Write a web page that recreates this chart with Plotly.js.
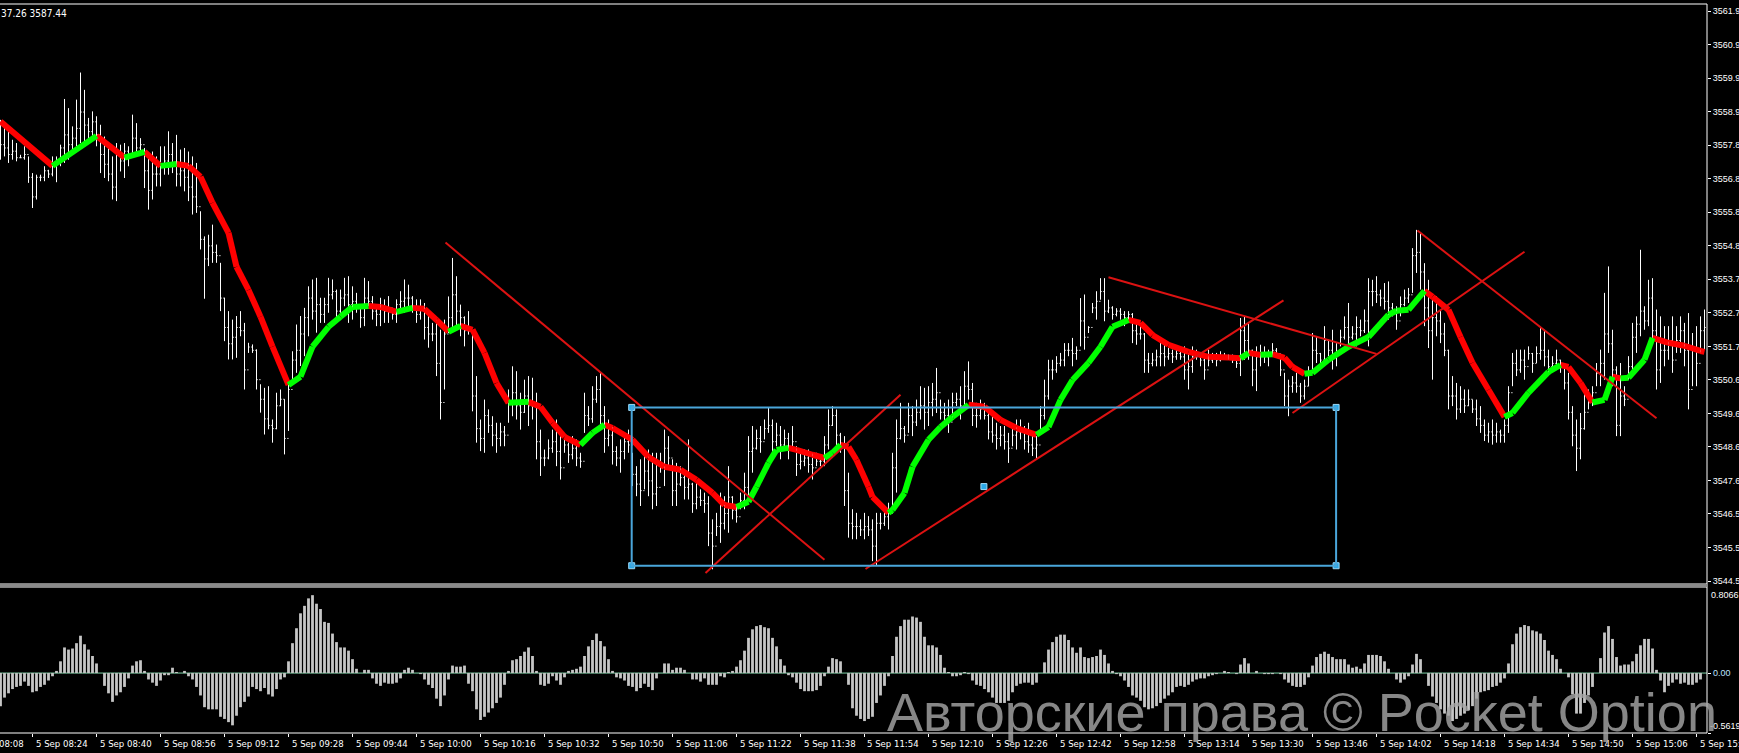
<!DOCTYPE html>
<html><head><meta charset="utf-8">
<script src="https://cdn.plot.ly/plotly-3.0.1.min.js"></script>
<style>html,body{margin:0;padding:0;background:#000;overflow:hidden}#chart{width:1739px;height:753px}</style>
</head><body><div id="chart"></div>
<script>
// ---------- price bars (1-minute) ----------
const high = [3558.66,3558.51,3558.46,3558.05,3557.95,3557.59,3557.85,3557.54,3557.03,3556.98,
3556.98,3557.24,3557.13,3557.54,3557.54,3557.90,3559.30,3559.02,3558.46,3559.28,
3560.11,3559.58,3558.72,3558.92,3558.77,3558.51,3558.15,3557.85,3557.54,3557.95,
3557.90,3557.95,3557.85,3558.82,3558.56,3558.10,3557.80,3557.54,3557.69,3557.54,
3557.85,3557.85,3558.31,3557.95,3558.20,3557.75,3557.80,3557.69,3557.54,3557.34,
3555.86,3555.09,3555.14,3555.45,3554.84,3554.28,3553.21,3552.80,3552.54,3552.65,
3552.80,3552.44,3551.83,3551.78,3551.63,3550.56,3550.45,3550.50,3549.48,3550.30,
3550.40,3550.10,3550.61,3551.57,3552.39,3552.65,3552.90,3553.56,3553.77,3553.82,
3553.21,3553.21,3553.82,3553.77,3553.46,3553.46,3553.82,3553.87,3553.56,3553.36,
3552.95,3553.82,3553.72,3553.26,3553.00,3553.21,3553.16,3553.26,3552.85,3553.16,
3553.41,3553.77,3553.61,3553.26,3553.16,3553.16,3553.05,3552.65,3552.44,3552.54,
3552.23,3552.54,3553.25,3554.43,3553.87,3553.00,3552.64,3552.80,3552.13,3550.81,
3549.48,3550.09,3549.79,3549.58,3549.38,3549.38,3549.28,3550.40,3551.11,3550.96,
3550.30,3550.70,3550.81,3550.76,3550.30,3549.17,3548.56,3548.87,3549.17,3549.48,
3548.97,3548.87,3548.77,3548.97,3548.87,3548.46,3550.30,3549.89,3550.50,3550.81,
3550.91,3549.89,3549.48,3549.28,3548.66,3548.87,3549.07,3549.17,3548.46,3548.05,
3548.26,3548.56,3548.56,3548.46,3548.46,3548.46,3549.17,3548.97,3548.26,3548.15,
3548.05,3547.85,3548.87,3547.54,3547.54,3547.34,3547.24,3547.13,3546.42,3546.62,
3547.24,3547.13,3548.05,3547.13,3546.83,3547.24,3547.85,3548.97,3549.28,3549.17,
3549.28,3549.48,3549.84,3549.48,3549.38,3549.28,3549.17,3549.07,3549.28,3548.66,
3548.56,3548.56,3548.56,3548.46,3548.46,3548.36,3548.97,3549.79,3549.89,3549.79,
3549.07,3548.97,3547.85,3546.73,3546.62,3546.42,3546.62,3546.52,3546.42,3546.62,
3546.62,3546.83,3546.93,3548.46,3549.48,3549.99,3549.28,3549.99,3549.89,3550.09,
3550.50,3550.45,3550.50,3550.60,3551.06,3550.09,3549.99,3550.09,3550.30,3550.30,
3550.50,3550.96,3551.26,3550.60,3549.99,3550.09,3549.99,3549.68,3549.58,3549.38,
3549.28,3549.28,3549.07,3549.28,3549.48,3549.48,3549.28,3549.38,3549.07,3548.97,
3549.89,3550.70,3551.31,3551.31,3551.42,3551.52,3551.82,3551.82,3551.98,3551.72,
3553.20,3553.31,3552.34,3553.05,3553.41,3553.81,3553.81,3553.15,3552.95,3552.89,
3552.89,3552.80,3552.80,3552.74,3552.54,3552.44,3552.13,3551.52,3551.52,3551.62,
3551.93,3551.82,3551.67,3551.62,3551.72,3551.62,3551.72,3551.52,3551.72,3551.62,
3551.52,3551.52,3551.62,3551.52,3551.52,3551.57,3551.52,3551.47,3551.47,3551.42,
3552.59,3552.64,3552.44,3551.62,3551.72,3551.77,3551.72,3551.62,3551.82,3551.67,
3551.42,3550.91,3550.70,3550.81,3550.91,3550.60,3550.70,3551.11,3552.13,3552.03,
3551.52,3552.34,3551.93,3552.23,3551.82,3552.23,3552.64,3553.05,3552.34,3552.64,
3552.54,3552.85,3553.81,3553.76,3553.87,3553.46,3553.66,3553.71,3553.05,3552.95,
3553.25,3553.46,3553.51,3554.73,3555.29,3555.19,3554.27,3553.76,3553.15,3553.25,
3552.85,3552.44,3551.62,3550.81,3550.60,3550.50,3550.40,3550.40,3550.09,3550.09,
3549.89,3549.48,3549.38,3549.48,3549.38,3549.17,3549.48,3550.50,3551.52,3551.62,
3551.62,3551.62,3551.72,3551.52,3551.72,3552.28,3552.23,3551.62,3551.42,3551.62,
3551.31,3551.21,3550.91,3549.89,3549.48,3549.68,3550.30,3550.40,3550.50,3551.21,
3551.62,3553.36,3554.17,3552.23,3551.11,3551.21,3550.50,3551.42,3552.44,3552.64,
3554.68,3552.95,3553.76,3553.81,3552.85,3552.64,3552.34,3552.34,3552.64,3552.34,
3552.64,3552.44,3552.74,3552.13,3552.34,3552.64,3552.85];

const low = [3557.44,3557.54,3557.34,3557.44,3557.39,3557.49,3557.44,3556.73,3555.96,3556.22,
3556.78,3556.78,3556.88,3556.93,3556.75,3557.24,3557.34,3557.44,3557.64,3557.85,
3557.95,3557.85,3558.05,3558.15,3557.85,3557.03,3556.88,3556.78,3556.22,3556.17,
3557.08,3556.88,3557.24,3557.54,3557.64,3557.64,3556.57,3555.91,3556.22,3556.62,
3556.62,3556.98,3556.98,3557.03,3556.62,3556.62,3556.47,3556.17,3555.76,3555.81,
3554.69,3553.18,3554.18,3554.28,3554.28,3552.80,3551.88,3551.32,3551.32,3551.37,
3552.03,3550.40,3551.52,3551.52,3550.40,3549.69,3549.02,3549.18,3548.77,3549.18,
3549.89,3548.41,3549.13,3550.56,3550.91,3551.12,3551.42,3552.03,3552.54,3552.14,
3552.44,3552.44,3552.75,3553.16,3552.44,3552.75,3552.95,3552.44,3552.54,3552.75,
3552.29,3552.34,3552.95,3552.54,3552.34,3552.34,3552.44,3552.44,3552.54,3552.44,
3552.80,3552.75,3552.90,3552.75,3552.44,3552.54,3551.93,3551.68,3551.88,3550.81,
3549.48,3550.40,3552.13,3552.23,3552.23,3552.03,3551.72,3552.08,3549.73,3548.77,
3548.51,3548.46,3549.07,3548.66,3548.46,3548.66,3548.66,3549.38,3549.58,3549.48,
3549.17,3549.68,3549.28,3549.48,3548.26,3547.75,3548.05,3548.26,3548.46,3548.05,
3547.64,3548.46,3548.15,3548.26,3548.05,3548.00,3549.07,3549.28,3549.38,3549.99,
3549.28,3548.46,3548.66,3548.10,3548.05,3547.85,3548.26,3548.46,3547.44,3547.13,
3546.83,3547.34,3547.13,3546.73,3546.83,3547.85,3547.44,3547.95,3546.83,3546.83,
3547.44,3547.03,3547.03,3546.62,3546.73,3546.83,3546.62,3545.60,3544.89,3545.91,
3545.70,3546.11,3546.01,3546.42,3546.32,3546.73,3546.73,3547.13,3547.85,3548.56,
3548.46,3548.87,3549.07,3548.46,3548.66,3548.26,3548.56,3548.26,3548.56,3547.75,
3547.95,3548.05,3547.85,3547.64,3548.05,3548.05,3548.05,3548.56,3549.28,3548.46,
3548.46,3546.83,3545.86,3545.81,3545.81,3545.91,3545.81,3545.91,3545.14,3544.99,
3546.11,3546.22,3546.11,3546.73,3547.24,3548.87,3548.77,3549.07,3548.97,3549.28,
3549.48,3549.17,3549.28,3549.58,3549.68,3549.48,3549.28,3549.07,3549.48,3549.89,
3549.48,3549.89,3550.09,3549.28,3549.23,3549.48,3549.48,3548.87,3548.77,3548.56,
3548.66,3548.56,3548.15,3548.66,3548.56,3548.87,3548.56,3548.46,3548.36,3548.26,
3549.07,3549.48,3550.09,3550.70,3550.91,3551.11,3551.11,3551.42,3551.11,3551.31,
3551.72,3551.62,3552.13,3552.74,3552.54,3553.15,3552.49,3552.74,3552.54,3552.64,
3552.54,3552.34,3552.54,3551.82,3551.77,3551.93,3550.91,3550.91,3551.11,3551.11,
3551.11,3551.11,3551.31,3551.21,3551.31,3551.31,3550.70,3550.40,3550.91,3551.31,
3551.11,3550.70,3551.11,3551.21,3551.11,3551.26,3551.31,3551.31,3551.21,3551.06,
3550.81,3551.31,3551.31,3550.50,3550.35,3551.11,3551.21,3551.11,3551.42,3551.42,
3550.81,3549.89,3549.58,3550.30,3550.30,3549.99,3550.09,3550.50,3550.91,3551.21,
3551.11,3551.21,3551.42,3551.01,3551.11,3551.72,3551.93,3551.72,3551.93,3551.72,
3552.03,3552.13,3551.72,3552.95,3553.05,3552.95,3552.85,3552.54,3552.64,3552.23,
3552.64,3552.95,3553.05,3553.36,3553.97,3553.46,3552.34,3551.67,3550.70,3552.03,
3551.82,3551.42,3549.79,3549.89,3549.48,3549.68,3549.68,3549.89,3549.68,3549.28,
3549.07,3548.82,3548.77,3548.71,3548.77,3548.77,3548.77,3549.07,3550.50,3550.81,
3550.91,3550.70,3551.31,3550.91,3551.21,3551.31,3551.11,3550.91,3551.01,3551.11,
3550.91,3550.40,3549.48,3548.66,3547.90,3548.26,3549.17,3549.79,3549.89,3550.50,
3550.50,3550.70,3551.52,3550.50,3548.97,3548.97,3549.89,3550.70,3550.81,3551.52,
3552.03,3552.23,3552.34,3551.82,3550.40,3550.60,3551.11,3551.31,3550.91,3551.52,
3551.52,3551.11,3549.79,3550.50,3550.50,3551.52,3551.62];

const close = [3557.9,3557.8,3557.6,3557.7,3557.5,3557.5,3557.6,3556.9,3556.3,3556.9,
3556.9,3557.1,3557.0,3557.3,3557.4,3557.8,3558.2,3557.9,3558.1,3558.4,
3558.9,3558.5,3558.3,3558.6,3558.2,3557.6,3557.3,3557.0,3556.6,3557.6,
3557.4,3557.7,3557.6,3558.1,3557.8,3557.9,3557.1,3556.5,3557.0,3557.0,
3557.2,3557.4,3557.6,3557.3,3557.0,3557.1,3556.9,3556.6,3556.3,3556.0,
3555.0,3554.4,3554.8,3554.6,3554.5,3553.2,3552.3,3551.8,3552.0,3552.3,
3552.2,3551.0,3551.7,3551.6,3550.7,3550.1,3549.5,3549.3,3549.2,3549.9,
3550.1,3548.9,3550.4,3551.3,3551.6,3552.1,3552.6,3553.2,3552.8,3553.0,
3552.7,3553.0,3553.3,3553.4,3552.8,3553.2,3553.3,3553.0,3553.1,3552.9,
3552.6,3553.2,3553.1,3552.8,3552.7,3552.9,3552.8,3552.9,3552.7,3553.0,
3553.1,3553.2,3553.2,3552.9,3552.7,3552.9,3552.3,3552.1,3552.1,3551.2,
3550.0,3552.1,3552.6,3553.3,3552.8,3552.6,3552.2,3552.3,3550.2,3549.2,
3548.9,3549.6,3549.3,3549.0,3548.9,3549.1,3549.0,3550.0,3550.3,3549.9,
3549.7,3550.2,3549.9,3550.0,3548.8,3548.3,3548.3,3548.6,3548.8,3548.5,
3548.0,3548.7,3548.4,3548.6,3548.3,3548.2,3549.6,3549.5,3550.1,3550.4,
3549.6,3548.9,3549.0,3548.5,3548.3,3548.5,3548.8,3548.7,3547.8,3547.5,
3547.3,3547.9,3547.6,3547.2,3547.4,3548.1,3548.6,3548.3,3547.3,3547.5,
3547.7,3547.4,3547.5,3546.9,3547.1,3547.0,3546.9,3546.0,3545.6,3546.2,
3546.3,3546.6,3547.1,3546.7,3546.5,3547.0,3547.4,3548.5,3548.6,3548.9,
3548.8,3549.2,3549.3,3548.8,3549.0,3548.7,3548.9,3548.6,3548.8,3548.1,
3548.2,3548.3,3548.1,3548.0,3548.2,3548.2,3548.7,3549.3,3549.6,3549.0,
3548.7,3547.3,3546.3,3546.2,3546.2,3546.1,3546.2,3546.1,3545.6,3546.3,
3546.3,3546.5,3546.6,3548.0,3548.9,3549.2,3549.0,3549.6,3549.4,3549.7,
3549.9,3549.7,3550.0,3550.1,3550.3,3549.7,3549.6,3549.4,3550.0,3550.1,
3549.9,3550.5,3550.4,3549.6,3549.6,3549.8,3549.6,3549.1,3549.0,3548.9,
3549.0,3548.8,3548.6,3549.0,3549.1,3549.1,3548.8,3548.7,3548.6,3548.7,
3549.6,3550.2,3551.0,3551.0,3551.2,3551.3,3551.6,3551.6,3551.5,3551.6,
3552.5,3552.0,3552.3,3552.9,3553.1,3553.4,3552.8,3552.9,3552.7,3552.8,
3552.7,3552.6,3552.7,3552.2,3552.1,3552.1,3551.3,3551.2,3551.3,3551.4,
3551.5,3551.4,3551.5,3551.4,3551.5,3551.4,3551.0,3551.1,3551.4,3551.4,
3551.3,3551.0,3551.3,3551.4,3551.3,3551.4,3551.4,3551.4,3551.3,3551.2,
3552.2,3551.9,3551.6,3551.0,3551.4,3551.5,3551.4,3551.5,3551.6,3551.5,
3551.0,3550.2,3550.5,3550.6,3550.5,3550.2,3550.5,3550.9,3551.6,3551.5,
3551.3,3551.9,3551.6,3551.4,3551.5,3552.0,3552.3,3552.0,3552.1,3552.3,
3552.2,3552.5,3553.4,3553.4,3553.3,3553.2,3553.1,3552.9,3552.8,3552.5,
3553.0,3553.2,3553.3,3554.5,3554.6,3554.0,3552.9,3552.2,3552.6,3552.5,
3552.1,3551.6,3550.2,3550.2,3549.8,3550.1,3549.9,3550.1,3549.8,3549.5,
3549.3,3549.0,3549.1,3549.0,3549.1,3549.0,3549.3,3550.3,3551.2,3551.0,
3551.3,3551.1,3551.5,3551.2,3551.5,3551.6,3551.4,3551.1,3551.2,3551.3,
3551.1,3550.6,3549.7,3549.0,3548.6,3549.2,3549.7,3550.0,3550.3,3550.9,
3551.2,3552.1,3551.8,3551.0,3549.3,3550.2,3550.1,3551.1,3552.0,3552.4,
3552.8,3552.5,3553.2,3552.2,3551.0,3551.6,3551.6,3551.9,3551.3,3551.9,
3552.2,3551.6,3550.4,3551.6,3551.2,3552.2,3552.3];

// ---------- smoothed trend line (coloured by slope) ----------
const maBar = [0,13,24,31,36,40,44,47,50,53,57,59,62,65,68,72,75,78,82,85,88,92,95,99,103,106,109,112,115,118,121,124,127,132,135,138,141,145,148,151,153,158,162,166,170,174,178,181,184,187,189,192,194,197,199,203,206,208,210,212,214,217,218,222,223,226,228,232,235,238,242,246,250,254,259,262,265,268,272,275,278,282,285,288,292,297,302,307,310,312,315,318,321,323,326,328,332,337,342,347,349,352,356,358,362,365,368,372,376,378,382,387,390,392,395,398,401,403,405,407,411,413,417,421,425,426];
const maPrice = [3558.61,3557.25,3558.17,3557.50,3557.68,3557.25,3557.31,3557.25,3556.92,3556.12,3555.20,3554.16,3553.45,3552.63,3551.71,3550.54,3550.79,3551.71,3552.32,3552.63,3552.93,3552.96,3552.93,3552.78,3552.90,3552.87,3552.53,3552.17,3552.35,3552.23,3551.52,3550.60,3549.99,3550.02,3549.87,3549.38,3548.95,3548.70,3549.07,3549.32,3549.22,3548.86,3548.33,3548.03,3547.94,3547.63,3547.23,3546.86,3546.80,3546.96,3547.42,3548.15,3548.55,3548.61,3548.55,3548.40,3548.30,3548.46,3548.70,3548.64,3548.24,3547.42,3547.11,3546.62,3546.71,3547.23,3548.03,3548.86,3549.25,3549.56,3549.93,3549.87,3549.47,3549.22,3549.01,3549.25,3550.08,3550.69,3551.22,3551.71,3552.32,3552.53,3552.44,3552.07,3551.77,3551.55,3551.40,3551.38,3551.36,3551.52,3551.46,3551.48,3551.37,3551.09,3550.88,3550.91,3551.31,3551.71,3552.01,3552.69,3552.81,3552.84,3553.42,3553.24,3552.84,3552.01,3551.22,3550.39,3549.56,3549.68,3550.30,3550.94,3551.15,3551.09,3550.60,3550.00,3550.08,3550.79,3550.74,3550.76,3551.31,3551.98,3551.83,3551.74,3551.58,3551.55];

// ---------- oscillator histogram (lower window) ----------
const osc = [-0.31,-0.23,-0.19,-0.15,-0.13,-0.12,-0.08,-0.12,-0.18,-0.17,
-0.13,-0.11,-0.07,-0.03,0.02,0.11,0.24,0.22,0.23,0.28,
0.35,0.27,0.22,0.16,0.09,0.00,-0.12,-0.19,-0.27,-0.21,
-0.18,-0.13,-0.05,0.07,0.11,0.12,0.02,-0.06,-0.09,-0.12,
-0.07,-0.02,-0.02,0.05,0.01,0.00,0.02,-0.03,-0.06,-0.13,
-0.21,-0.32,-0.34,-0.34,-0.34,-0.41,-0.43,-0.46,-0.49,-0.40,
-0.32,-0.27,-0.22,-0.13,-0.15,-0.17,-0.14,-0.20,-0.22,-0.15,
-0.06,-0.04,0.11,0.28,0.42,0.56,0.63,0.70,0.73,0.65,
0.60,0.48,0.47,0.37,0.29,0.24,0.24,0.21,0.13,0.04,
0.00,0.03,0.03,-0.05,-0.10,-0.12,-0.09,-0.10,-0.10,-0.09,
-0.05,0.03,0.05,0.03,0.00,-0.01,-0.06,-0.11,-0.14,-0.24,
-0.31,-0.21,-0.06,0.07,0.06,0.06,0.07,-0.10,-0.17,-0.34,
-0.44,-0.41,-0.37,-0.33,-0.28,-0.23,-0.11,0.02,0.12,0.13,
0.16,0.20,0.24,0.16,0.02,-0.11,-0.12,-0.10,-0.03,-0.07,
-0.11,-0.04,0.02,0.03,0.04,0.06,0.16,0.25,0.31,0.37,
0.30,0.25,0.13,0.02,-0.04,-0.05,-0.07,-0.12,-0.13,-0.17,
-0.14,-0.10,-0.13,-0.16,-0.05,0.00,0.09,0.09,0.03,0.05,
0.05,0.03,0.00,-0.06,-0.06,-0.08,-0.05,-0.11,-0.11,-0.11,
-0.03,-0.04,0.01,0.02,0.06,0.12,0.21,0.33,0.41,0.44,
0.45,0.43,0.42,0.33,0.25,0.13,0.07,-0.02,-0.04,-0.09,
-0.15,-0.17,-0.17,-0.17,-0.16,-0.12,-0.03,0.06,0.14,0.13,
0.11,0.00,-0.11,-0.33,-0.40,-0.43,-0.45,-0.43,-0.41,-0.28,
-0.21,-0.12,-0.03,0.16,0.34,0.44,0.50,0.50,0.53,0.52,
0.48,0.34,0.26,0.26,0.24,0.17,0.05,0.01,-0.03,-0.03,
-0.02,0.01,-0.01,-0.07,-0.11,-0.12,-0.15,-0.18,-0.23,-0.28,
-0.28,-0.28,-0.26,-0.18,-0.12,-0.10,-0.09,-0.09,-0.11,-0.09,
0.00,0.10,0.22,0.29,0.34,0.36,0.36,0.31,0.24,0.19,
0.24,0.15,0.14,0.15,0.16,0.22,0.17,0.09,0.02,-0.01,
-0.03,-0.07,-0.13,-0.21,-0.23,-0.26,-0.32,-0.34,-0.33,-0.31,
-0.28,-0.24,-0.21,-0.18,-0.13,-0.12,-0.13,-0.11,-0.08,-0.06,
-0.05,-0.05,-0.03,-0.02,-0.01,0.00,0.02,0.01,0.00,-0.01,
0.08,0.14,0.09,0.00,0.02,0.00,-0.01,-0.01,-0.01,0.00,
-0.01,-0.06,-0.09,-0.12,-0.13,-0.13,-0.11,-0.04,0.07,0.15,
0.18,0.20,0.18,0.15,0.13,0.13,0.13,0.08,0.05,0.06,
0.04,0.09,0.17,0.17,0.17,0.16,0.11,0.04,0.00,-0.06,
-0.09,-0.06,-0.03,0.08,0.18,0.13,0.00,-0.12,-0.22,-0.28,
-0.34,-0.38,-0.40,-0.45,-0.43,-0.40,-0.38,-0.35,-0.31,-0.24,
-0.18,-0.17,-0.16,-0.13,-0.12,-0.09,-0.05,0.09,0.27,0.37,
0.43,0.45,0.44,0.40,0.39,0.37,0.31,0.21,0.17,0.13,
0.04,0.00,-0.04,-0.20,-0.38,-0.38,-0.28,-0.21,-0.13,0.00,
0.14,0.38,0.44,0.32,0.15,0.07,0.08,0.08,0.11,0.18,
0.26,0.32,0.32,0.23,0.03,-0.07,-0.18,-0.12,-0.09,-0.06,
-0.10,-0.09,-0.11,-0.11,-0.09,-0.06,0.00];

// ---------- axes text ----------
const timeTickBars = [-8,8,24,40,56,72,88,104,120,136,152,168,184,200,216,232,248,264,280,296,312,328,344,360,376,392,408,424];
const timeTickLabels = ['5 Sep 08:08','5 Sep 08:24','5 Sep 08:40','5 Sep 08:56','5 Sep 09:12','5 Sep 09:28','5 Sep 09:44','5 Sep 10:00','5 Sep 10:16','5 Sep 10:32','5 Sep 10:50','5 Sep 11:06','5 Sep 11:22','5 Sep 11:38','5 Sep 11:54','5 Sep 12:10','5 Sep 12:26','5 Sep 12:42','5 Sep 12:58','5 Sep 13:14','5 Sep 13:30','5 Sep 13:46','5 Sep 14:02','5 Sep 14:18','5 Sep 14:34','5 Sep 14:50','5 Sep 15:06','5 Sep 15:22'];
const priceTicks = [3544.53,3545.557,3546.585,3547.612,3548.639,3549.667,3550.694,3551.721,3552.748,3553.776,3554.803,3555.830,3556.858,3557.885,3558.912,3559.940,3560.967,3561.994];
const priceTickLabels = ['3544.5','3545.5','3546.5','3547.6','3548.6','3549.6','3550.6','3551.7','3552.7','3553.7','3554.8','3555.8','3556.8','3557.8','3558.9','3559.9','3560.9','3561.9'];
const oscLabels = ['0.8066','0.00','-0.5619'];
const oscLabelVals = [0.8066, 0, -0.5619];
const headerText = '37.26 3587.44';
const watermarkText = 'Авторские права © Pocket Option';

// ---------- drawn objects ----------
const tlBar0 = [111.25,176.25,216.25,277,323,354.25];
const tlPrice0 = [3554.90,3544.78,3544.90,3553.84,3549.68,3555.27];
const tlBar1 = [206,225,320.75,344,381,414];
const tlPrice1 = [3545.18,3550.24,3553.13,3551.49,3554.62,3549.52];
const rectBar = [157.8,333.9];
const rectPrice = [3545.00,3549.85];

// ---------- build ----------
const bars = high.map((_, i) => i);
const open = close.map((c, i) => i === 0 ? c : close[i - 1]);
const XR = [-0.125, 426.625];
const FONT = 'DejaVu Sans Condensed, DejaVu Sans, sans-serif';
const NUMFONT = 'Liberation Sans, Arial, sans-serif';

const gx = [], gy = [], rx = [], ry = [];
for (let k = 0; k < maBar.length - 1; k++) {
  const up = maPrice[k + 1] >= maPrice[k];
  const X = up ? gx : rx, Y = up ? gy : ry;
  X.push(maBar[k], maBar[k + 1], null);
  Y.push(maPrice[k], maPrice[k + 1], null);
}

const traces = [
  {type:'bar', x:bars, y:osc, xaxis:'x', yaxis:'y2', marker:{color:'#c6c6c6', line:{width:0}}, width:0.7, hoverinfo:'skip', showlegend:false},
  {type:'ohlc', x:bars, open:open, high:high, low:low, close:close, xaxis:'x', yaxis:'y',
   increasing:{line:{color:'#ffffff', width:1}}, decreasing:{line:{color:'#ffffff', width:1}},
   tickwidth:0.3, hoverinfo:'skip', showlegend:false},
  {type:'scatter', mode:'lines', x:rx, y:ry, xaxis:'x', yaxis:'y', line:{color:'#ff0000', width:6}, connectgaps:false, hoverinfo:'skip', showlegend:false},
  {type:'scatter', mode:'lines', x:gx, y:gy, xaxis:'x', yaxis:'y', line:{color:'#00ff00', width:6}, connectgaps:false, hoverinfo:'skip', showlegend:false},
  {type:'scatter', mode:'markers', xaxis:'x', yaxis:'y',
   x:[rectBar[0], rectBar[1], rectBar[0], rectBar[1], (rectBar[0] + rectBar[1]) / 2],
   y:[rectPrice[1], rectPrice[1], rectPrice[0], rectPrice[0], (rectPrice[0] + rectPrice[1]) / 2],
   marker:{symbol:'square', size:6, color:'#2aa8e8', line:{color:'#9ed8f5', width:1}}, hoverinfo:'skip', showlegend:false}
];

const shapes = [];
shapes.push({type:'line', xref:'paper', yref:'y2', x0:0, x1:1, y0:0, y1:0, line:{color:'#7fd3a8', width:1}, layer:'below'});
for (let k = 0; k < tlBar0.length; k++) {
  shapes.push({type:'line', xref:'x', yref:'y', x0:tlBar0[k], y0:tlPrice0[k], x1:tlBar1[k], y1:tlPrice1[k], line:{color:'#dc1212', width:2}});
}
shapes.push({type:'rect', xref:'x', yref:'y', x0:rectBar[0], x1:rectBar[1], y0:rectPrice[0], y1:rectPrice[1], line:{color:'#4aa6da', width:2}, fillcolor:'rgba(0,0,0,0)'});
// window frames
const mainBottom = 149 / 729, subTop = 146 / 729;
shapes.push({type:'line', xref:'paper', yref:'paper', x0:0, x1:1, y0:1, y1:1, line:{color:'#ffffff', width:1}});
shapes.push({type:'line', xref:'paper', yref:'paper', x0:0, x1:1, y0:mainBottom, y1:mainBottom, line:{color:'#ffffff', width:1}});
shapes.push({type:'line', xref:'paper', yref:'paper', x0:0, x1:1, y0:subTop, y1:subTop, line:{color:'#ffffff', width:1}});
shapes.push({type:'line', xref:'paper', yref:'paper', x0:0, x1:1, y0:0, y1:0, line:{color:'#ffffff', width:1}});
shapes.push({type:'line', xref:'paper', yref:'paper', x0:1, x1:1, y0:0, y1:1, line:{color:'#ffffff', width:1}});
shapes.push({type:'rect', xref:'paper', yref:'paper', x0:0, x1:1, y0:subTop, y1:mainBottom, line:{width:0}, fillcolor:'#8a8a8a'});

const annotations = [];
timeTickBars.forEach((b, k) => {
  annotations.push({xref:'paper', yref:'paper', x:(b - XR[0]) / (XR[1] - XR[0]), y:0, xanchor:'left', yanchor:'top',
    xshift:1, yshift:-3, text:timeTickLabels[k], showarrow:false, font:{family:FONT, size:9.5, color:'#ffffff'}});
});
annotations.push({xref:'paper', yref:'y2', x:1, y:oscLabelVals[0], xanchor:'left', yanchor:'top', xshift:2, yshift:-1, text:oscLabels[0], showarrow:false, font:{family:NUMFONT, size:9, color:'#ffffff'}});
annotations.push({xref:'paper', yref:'y2', x:1, y:oscLabelVals[1], xanchor:'left', yanchor:'middle', xshift:4, text:oscLabels[1], showarrow:false, font:{family:NUMFONT, size:9, color:'#bfe3ff'}});
annotations.push({xref:'paper', yref:'y2', x:1, y:oscLabelVals[2], xanchor:'left', yanchor:'bottom', xshift:1, yshift:0, text:oscLabels[2], showarrow:false, font:{family:NUMFONT, size:9, color:'#ffffff'}});
annotations.push({xref:'paper', yref:'paper', x:0, y:1, xanchor:'left', yanchor:'top', xshift:-1, yshift:-2, text:headerText, showarrow:false, font:{family:FONT, size:10, color:'#ffffff'}});
annotations.push({xref:'paper', yref:'paper', x:885 / 1707, y:21 / 729, xanchor:'left', yanchor:'middle', text:watermarkText, showarrow:false,
  font:{family:'Liberation Sans, Arial, sans-serif', size:54, color:'rgba(165,165,165,0.82)'}});

const layout = {
  width:1739, height:753,
  margin:{l:0, r:32, t:4, b:20, pad:0},
  paper_bgcolor:'#000000', plot_bgcolor:'#000000',
  showlegend:false, dragmode:false, hovermode:false,
  font:{family:FONT, size:10, color:'#ffffff'},
  xaxis:{domain:[0,1], range:XR, anchor:'y2', showgrid:false, zeroline:false, showline:false,
    tickmode:'array', tickvals:timeTickBars.slice(1), ticktext:timeTickBars.slice(1).map(() => ''),
    ticks:'outside', ticklen:3, tickcolor:'#ffffff', tickwidth:1, showticklabels:false,
    rangeslider:{visible:false}, fixedrange:true},
  yaxis:{domain:[mainBottom, 1], range:[3544.44, 3562.21], anchor:'x', side:'right', showgrid:false, zeroline:false, showline:false,
    tickmode:'array', tickvals:priceTicks, ticktext:priceTickLabels, ticks:'outside', ticklen:3, tickcolor:'#ffffff',
    tickfont:{family:NUMFONT, size:9, color:'#ffffff'}, fixedrange:true},
  yaxis2:{domain:[0, subTop], range:[-0.5619, 0.8066], anchor:'x', side:'right', showgrid:false, zeroline:false, showline:false,
    tickmode:'array', tickvals:[0, -0.5619], ticktext:['',''], ticks:'outside', ticklen:3, tickcolor:'#ffffff', fixedrange:true},
  shapes:shapes, annotations:annotations
};

Plotly.newPlot('chart', traces, layout, {staticPlot:true, displayModeBar:false});
</script>
</body></html>
